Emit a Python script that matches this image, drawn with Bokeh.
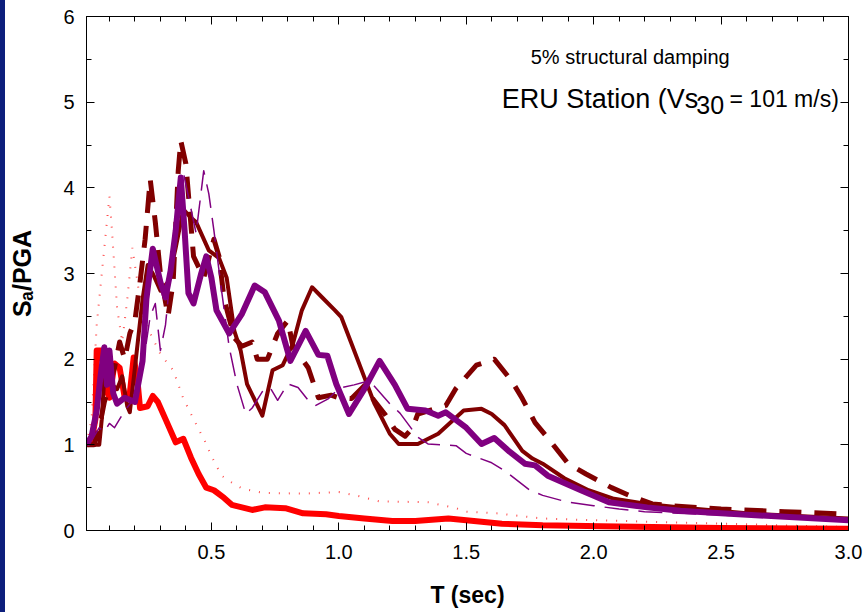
from bokeh.plotting import figure
from bokeh.models import (Range1d, LinearAxis, FixedTicker, PrintfTickFormatter,
                          CustomJSTickFormatter, Label, Spacer)
from bokeh.layouts import row
from bokeh.embed import file_html
from bokeh.resources import INLINE

# Response spectra (Sa/PGA vs period T) at ERU station
red_t = [0.01, 0.03, 0.045, 0.05, 0.07, 0.08, 0.1, 0.12, 0.14, 0.16, 0.18, 0.195, 0.21, 0.22, 0.25,
         0.27, 0.29, 0.32, 0.36, 0.39, 0.42, 0.45, 0.48, 0.51, 0.55, 0.58, 0.62, 0.66, 0.71, 0.79,
         0.86, 0.95, 1.0, 1.1, 1.21, 1.3, 1.43, 1.5, 1.64, 1.8, 2.03, 2.5, 3.0]
red_s = [1.0, 1.05, 1.3, 2.1, 2.1, 1.7, 1.55, 1.95, 1.9, 1.55, 1.6, 2.02, 1.75, 1.43, 1.45,
         1.57, 1.5, 1.3, 1.03, 1.07, 0.85, 0.66, 0.5, 0.47, 0.38, 0.3, 0.27, 0.24, 0.27, 0.26,
         0.2, 0.19, 0.17, 0.14, 0.11, 0.11, 0.14, 0.12, 0.08, 0.06, 0.05, 0.03, 0.02]

dot_t = [0.01, 0.03, 0.05, 0.07, 0.09, 0.1, 0.11, 0.13, 0.15, 0.17, 0.19, 0.21, 0.23, 0.26, 0.3,
         0.35, 0.39, 0.43, 0.48, 0.5, 0.54, 0.58, 0.62, 0.7, 0.86, 1.0, 1.08, 1.16, 1.35, 1.46,
         1.5, 1.62, 1.8, 2.0, 2.5, 3.0]
dot_s = [1.0, 1.3, 2.4, 3.0, 3.6, 3.9, 3.5, 2.6, 2.2, 2.7, 3.3, 2.9, 2.5, 2.3, 2.06,
         1.87, 1.54, 1.3, 1.01, 0.87, 0.64, 0.56, 0.49, 0.44, 0.43, 0.45, 0.4, 0.34, 0.33, 0.26,
         0.22, 0.2, 0.14, 0.12, 0.08, 0.04]

maroon_t = [0.01, 0.04, 0.06, 0.07, 0.08, 0.09, 0.1, 0.11, 0.13, 0.15, 0.17, 0.18, 0.2, 0.23, 0.25,
            0.27, 0.3, 0.33, 0.36, 0.39, 0.42, 0.44, 0.49, 0.53, 0.56, 0.59, 0.615, 0.64, 0.7, 0.74,
            0.78, 0.82, 0.855, 0.895, 0.935, 0.985, 1.01, 1.05, 1.1, 1.14, 1.2, 1.235, 1.31, 1.39,
            1.49, 1.56, 1.6, 1.65, 1.72, 1.76, 1.8, 1.885, 1.98, 2.08, 2.21, 2.34, 2.6, 3.0]
maroon_s = [1.0, 1.0, 1.0, 1.3, 1.8, 2.0, 2.05, 1.7, 1.65, 1.8, 1.45, 1.38, 1.9, 2.7, 3.1,
            3.0, 2.8, 2.9, 3.3, 3.75, 3.65, 3.6, 3.27, 3.18, 2.95, 2.33, 2.1, 1.71, 1.34, 1.87,
            1.93, 2.18, 2.57, 2.84, 2.72, 2.57, 2.49, 2.18, 1.79, 1.48, 1.13, 1.01, 1.01, 1.13,
            1.40, 1.42, 1.36, 1.23, 0.93, 0.84, 0.78, 0.61, 0.47, 0.37, 0.31, 0.27, 0.2, 0.14]

mdash_t = [0.01, 0.04, 0.06, 0.08, 0.1, 0.12, 0.14, 0.16, 0.18, 0.2, 0.22, 0.24, 0.26, 0.28, 0.3,
           0.33, 0.35, 0.37, 0.38, 0.4, 0.43, 0.47, 0.51, 0.53, 0.55, 0.59, 0.62, 0.66, 0.68, 0.72,
           0.76, 0.8, 0.82, 0.88, 0.92, 0.97, 1.0, 1.05, 1.1, 1.13, 1.18, 1.22, 1.26, 1.29, 1.31,
           1.42, 1.46, 1.54, 1.61, 1.68, 1.72, 1.77, 1.82, 1.9, 1.97, 2.07, 2.14, 2.23, 2.3, 2.5,
           2.75, 3.0]
mdash_s = [1.0, 1.0, 1.2, 1.5, 1.7, 1.9, 2.2, 2.0, 2.3, 2.45, 2.9, 3.4, 4.1, 3.6, 3.0,
           2.5, 2.9, 4.2, 4.55, 4.28, 3.2, 2.95, 3.4, 3.2, 2.7, 2.25, 2.15, 2.2, 2.0, 2.0,
           2.3, 2.45, 2.15, 1.9, 1.55, 1.58, 1.55, 1.54, 1.69, 1.55, 1.36, 1.18, 1.1, 1.2, 1.36,
           1.46, 1.66, 1.93, 2.0, 1.74, 1.54, 1.26, 1.08, 0.78, 0.66, 0.5, 0.41, 0.31, 0.29, 0.25,
           0.22, 0.19]

purple_t = [0.01, 0.03, 0.05, 0.065, 0.08, 0.09, 0.1, 0.115, 0.13, 0.16, 0.2, 0.23, 0.245, 0.27, 0.3,
            0.32, 0.34, 0.36, 0.38, 0.395, 0.41, 0.43, 0.46, 0.48, 0.5, 0.52, 0.57, 0.62, 0.67, 0.71,
            0.765, 0.81, 0.87, 0.92, 0.955, 0.99, 1.04, 1.1, 1.16, 1.22, 1.27, 1.34, 1.39, 1.42, 1.5,
            1.56, 1.61, 1.67, 1.73, 1.77, 1.82, 1.95, 2.06, 2.21, 2.34, 2.5, 2.75, 3.0]
purple_s = [1.0, 1.1, 1.4, 1.8, 2.14, 1.7, 2.1, 1.6, 1.48, 1.55, 1.5, 1.98, 2.7, 3.29, 2.9,
            2.72, 3.03, 3.5, 4.12, 3.5, 2.77, 2.65, 3.0, 3.2, 2.95, 2.57, 2.3, 2.53, 2.86, 2.78,
            2.45, 1.98, 2.33, 2.05, 2.04, 1.71, 1.36, 1.65, 1.98, 1.7, 1.42, 1.40, 1.34, 1.38, 1.2,
            1.01, 1.08, 0.92, 0.78, 0.76, 0.64, 0.47, 0.33, 0.27, 0.23, 0.2, 0.16, 0.12]

pdash_t = [0.01, 0.04, 0.06, 0.08, 0.1, 0.12, 0.14, 0.16, 0.2, 0.24, 0.26, 0.28, 0.3, 0.32, 0.35,
           0.39, 0.44, 0.47, 0.49, 0.51, 0.54, 0.57, 0.6, 0.635, 0.66, 0.7, 0.73, 0.76, 0.8, 0.84,
           0.88, 0.91, 0.96, 1.0, 1.06, 1.12, 1.2, 1.24, 1.31, 1.35, 1.46, 1.5, 1.6, 1.65, 1.75,
           1.8, 1.9, 2.0, 2.1, 2.2, 2.5, 3.0]
pdash_s = [1.0, 1.1, 1.2, 1.15, 1.25, 1.2, 1.3, 1.4, 1.55, 2.1, 2.5, 2.65, 2.1, 2.4, 3.3,
           4.18, 3.47, 4.2, 3.93, 3.5, 2.8, 2.14, 1.71, 1.36, 1.43, 1.62, 1.67, 1.52, 1.71, 1.67,
           1.52, 1.46, 1.54, 1.66, 1.7, 1.75, 1.48, 1.37, 1.09, 1.01, 0.99, 0.9, 0.79, 0.7, 0.47,
           0.41, 0.33, 0.29, 0.25, 0.22, 0.18, 0.12]

x_major = [0.5, 1.0, 1.5, 2.0, 2.5, 3.0]
x_minor = [round(0.1 * i, 1) for i in range(1, 30) if i % 5 != 0]
y_major = [0, 1, 2, 3, 4, 5, 6]
y_minor = [0.5, 1.5, 2.5, 3.5, 4.5, 5.5]

FONT = "Liberation Sans"
RED, MAROON, PURPLE = "#ff0000", "#800000", "#800080"

p = figure(width=862, height=612, x_range=Range1d(0.01, 3.0), y_range=Range1d(0, 6),
           output_backend="svg", toolbar_location=None,
           min_border_left=79, min_border_right=19, min_border_top=16, min_border_bottom=82)
p.xgrid.visible = False
p.ygrid.visible = False
p.outline_line_color = "black"
p.background_fill_color = "white"
p.border_fill_color = "white"


def style_axis(ax, ticks, minor):
    ax.ticker = FixedTicker(ticks=ticks, minor_ticks=minor)
    ax.major_tick_in = 8
    ax.major_tick_out = 0
    ax.minor_tick_in = 5
    ax.minor_tick_out = 0
    ax.axis_line_color = "black"
    ax.major_tick_line_color = "black"
    ax.minor_tick_line_color = "black"
    ax.major_label_text_font = FONT
    ax.major_label_text_color = "black"
    ax.axis_label_text_color = "black"


style_axis(p.xaxis[0], x_major, x_minor)
p.xaxis[0].formatter = PrintfTickFormatter(format="%.1f")
p.xaxis[0].major_label_text_font_size = "20px"
p.xaxis[0].major_label_standoff = 14
p.xaxis[0].axis_label = "T (sec)"
p.xaxis[0].axis_label_text_font = FONT
p.xaxis[0].axis_label_text_font_style = "bold"
p.xaxis[0].axis_label_text_font_size = "23px"
p.xaxis[0].axis_label_standoff = 20

style_axis(p.yaxis[0], y_major, y_minor)
p.yaxis[0].major_label_text_font_size = "20px"
p.yaxis[0].major_label_standoff = 12
p.yaxis[0].axis_label = "S\u2090/PGA"
p.yaxis[0].axis_label_text_font = FONT
p.yaxis[0].axis_label_text_font_style = "bold"
p.yaxis[0].axis_label_text_font_size = "25px"
p.yaxis[0].axis_label_standoff = 24

# tick-only axes on the top and right edges of the frame
blank = CustomJSTickFormatter(code="return ''")
top = LinearAxis(formatter=blank, major_label_standoff=0)
style_axis(top, x_major, x_minor)
p.add_layout(top, "above")
right = LinearAxis(formatter=blank, major_label_standoff=0)
style_axis(right, y_major, y_minor)
p.add_layout(right, "right")

# spectra
p.line(dot_t, dot_s, line_color=RED, line_width=2, line_dash="1 9", line_alpha=0.7)
p.line(red_t, red_s, line_color=RED, line_width=6, line_join="round")
p.line(mdash_t, mdash_s, line_color=MAROON, line_width=5, line_dash="22 13", line_join="round")
p.line(maroon_t, maroon_s, line_color=MAROON, line_width=4, line_join="round")
p.line(pdash_t, pdash_s, line_color=PURPLE, line_width=1.5, line_dash="24 10", line_join="round")
p.line(purple_t, purple_s, line_color=PURPLE, line_width=6, line_join="round")

# annotations inside the frame
p.add_layout(Label(x=1.753, y=5.531, text="5% structural damping", text_font=FONT,
                   text_font_size="20px", text_color="black", text_baseline="middle"))
p.add_layout(Label(x=1.639, y=5.041, text="ERU Station (Vs", text_font=FONT,
                   text_font_size="27px", text_color="black", text_baseline="middle"))
p.add_layout(Label(x=2.403, y=4.965, text="30", text_font=FONT,
                   text_font_size="25px", text_color="black", text_baseline="middle"))
p.add_layout(Label(x=2.962, y=5.041, text="= 101 m/s)", text_font=FONT, text_align="right",
                   text_font_size="23px", text_color="black", text_baseline="middle"))

strip = Spacer(width=5, height=612, styles={"background-color": "#0d1f7c"})
layout = row(strip, p)

with open("out.html", "w") as f:
    f.write(file_html(layout, INLINE))
